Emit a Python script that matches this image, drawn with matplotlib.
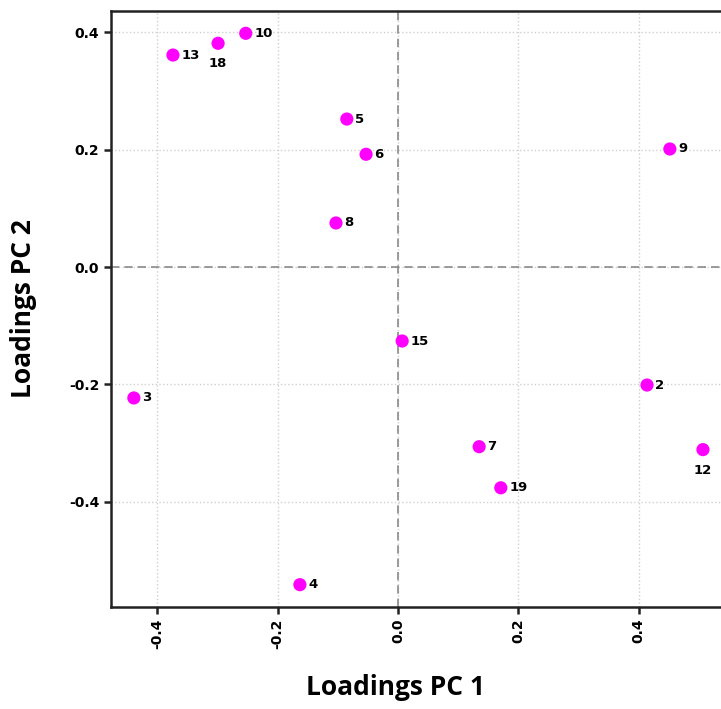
import matplotlib
matplotlib.use("Agg")
import matplotlib.pyplot as plt

# loadings
labels = ["13", "18", "10", "5", "6", "8", "9", "15", "3", "2", "7", "19", "12", "4"]
pc1 = [-0.374, -0.299, -0.253, -0.085, -0.053, -0.103, 0.452, 0.007, -0.439, 0.414, 0.135, 0.171, 0.507, -0.163]
pc2 = [0.361, 0.381, 0.398, 0.252, 0.192, 0.075, 0.201, -0.126, -0.223, -0.201, -0.306, -0.376, -0.311, -0.541]
below = ["18", "12"]  # labels drawn under the point

ticks = [-0.4, -0.2, 0.0, 0.2, 0.4]

fig = plt.figure(figsize=(7.21, 7.09), dpi=100)
ax = fig.add_axes([111 / 721, 102 / 709, 610 / 721, 596 / 709])

ax.set_xlim(-0.477, 0.537)
ax.set_ylim(-0.579, 0.436)
ax.set_xticks(ticks)
ax.set_yticks(ticks)
ax.set_xticklabels(["%.1f" % t for t in ticks], rotation=90, fontweight="bold", fontsize=10)
ax.set_yticklabels(["%.1f" % t for t in ticks], fontweight="bold", fontsize=10)

ax.grid(True, linestyle=":", color="#d0d0d0", linewidth=1)
ax.axhline(0, color="#8a8a8a", linestyle="--", linewidth=1.2, dashes=(5, 3))
ax.axvline(0, color="#8a8a8a", linestyle="--", linewidth=1.2, dashes=(5, 3))
ax.set_axisbelow(True)

ax.scatter(pc1, pc2, s=90, color="#ff00ff", zorder=3, edgecolors="none")
for lab, x, y in zip(labels, pc1, pc2):
    if lab in below:
        ax.annotate(lab, (x, y), xytext=(0, -10), textcoords="offset points",
                    ha="center", va="top", fontsize=9.5, fontweight="bold")
    else:
        ax.annotate(lab, (x, y), xytext=(6, 0), textcoords="offset points",
                    ha="left", va="center", fontsize=9.5, fontweight="bold")

for side in ["left", "bottom", "top"]:
    ax.spines[side].set_linewidth(1.8)
    ax.spines[side].set_color("#222222")
ax.spines["right"].set_visible(False)
ax.tick_params(width=1.8, length=5, color="#222222")

ax.set_xlabel("Loadings PC 1", fontsize=19, fontweight="bold", family="Open Sans")
ax.set_ylabel("Loadings PC 2", fontsize=19, fontweight="bold", family="Open Sans")
ax.xaxis.set_label_coords(0.466, -0.112)
ax.yaxis.set_label_coords(-0.121, 0.5)

fig.savefig("out.png", dpi=100)
